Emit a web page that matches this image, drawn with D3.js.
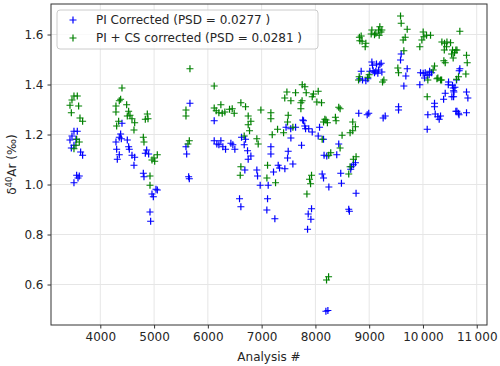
<!DOCTYPE html>
<html>
<head>
<meta charset="utf-8">
<script src="https://cdn.jsdelivr.net/npm/d3@7"></script>
<style>
  body { margin: 0; background: #fff; }
  svg text { font-family: "DejaVu Sans", sans-serif; fill: #262626; }
</style>
</head>
<body>
<svg id="chart"></svg>
<script>
// PI corrected vs PI + CS corrected d40Ar per analysis number

var width = 500,
    height = 366;

var xTicks = [4000, 5000, 6000, 7000, 8000, 9000, 10000, 11000];
var xTickLabels = ["4000", "5000", "6000", "7000", "8000", "9000", "10\u2009000", "11\u2009000"];
var yTicks = [0.6, 0.8, 1.0, 1.2, 1.4, 1.6];
var yTickLabels = ["0.6", "0.8", "1.0", "1.2", "1.4", "1.6"];

var seriesNames = ["PI Corrected (PSD = 0.0277 )", "PI + CS corrected (PSD = 0.0281 )"];
var seriesColors = ["#0000ff", "#008000"];

// [analysis #, d40Ar] for PI corrected
var piData = [
  [3510,1.213],[3572,1.213],[3473,1.194],[3436,1.178],[3547,1.181],[3461,1.146],[3510,1.157],
  [3634,1.130],[3671,1.117],[3560,1.037],[3609,1.034],[3585,1.026],[3510,1.007],
  [4378,1.202],[4353,1.189],[4391,1.183],[4291,1.170],[4502,1.178],[4527,1.151],[4539,1.141],
  [4304,1.141],[4353,1.119],[4316,1.101],[4589,1.117],[4639,1.109],[4626,1.077],[4403,1.245],
  [4862,1.138],[4837,1.125],[4899,1.122],[4800,1.045],[4812,1.031],[4961,0.962],[5035,0.981],
  [5060,0.978],[4986,0.951],[4924,0.890],[4936,0.853],
  [5667,1.325],[5593,1.151],[5606,1.122],[5643,1.031],[5655,1.023],
  [6118,1.255],[6118,1.175],[6167,1.162],[6205,1.159],[6242,1.175],[6279,1.151],[6329,1.141],
  [6428,1.165],[6465,1.159],[6502,1.141],[6626,1.189],[6701,1.181],[6676,1.159],[6738,1.135],
  [6800,1.114],[6750,1.101],[6688,1.058],[6911,1.058],[6924,1.034],[6973,0.997],[7122,0.997],
  [7172,1.151],[7172,1.122],[7308,1.077],[7221,1.050],[7333,1.066],[7432,1.063],[7581,1.082],
  [7494,1.133],[7482,1.106],[7544,1.186],[7631,1.229],[7779,1.255],[7817,1.223],[7941,1.210],
  [8077,1.229],[8052,1.194],[7742,1.157],[8151,1.181],[8126,1.042],[8151,1.026],[8250,0.990],
  [6589,0.943],[6614,0.911],[7110,0.943],[7097,0.898],[7246,0.863],[7928,0.903],[7866,0.882],
  [7916,0.861],[7854,0.821],
  [7764,1.258],[7802,1.234],[7876,1.223],[7454,1.229],[7541,1.223],[8161,1.117],[8211,1.114],
  [8397,1.119],[8434,1.162],[8471,1.045],[8484,1.005],[8756,0.965],[8620,0.901],[8632,0.893],
  [8806,1.285],[8992,1.285],[8963,1.279],[8670,1.071],[8706,1.079],[8744,1.087],[8657,1.061],
  [8195,0.493],[8232,0.496],
  [9050,1.490],[9062,1.477],[9136,1.482],[9198,1.479],[9223,1.485],[9174,1.458],[9124,1.453],
  [9074,1.455],[9012,1.453],[8851,1.453],[8826,1.423],[8876,1.418],[8938,1.415],[8975,1.423],
  [9099,1.447],[9161,1.445],[9236,1.450],[9260,1.266],[9298,1.274],
  [9595,1.522],[9583,1.498],[9707,1.463],[9682,1.434],[9645,1.394],[9546,1.311],[9546,1.298],
  [9955,1.447],[10004,1.445],[10042,1.447],[10079,1.437],[10029,1.426],[9942,1.399],[10116,1.439],
  [10124,1.453],[10161,1.447],
  [10091,1.279],[10228,1.282],[10277,1.271],[10302,1.261],[10327,1.274],[10079,1.221],
  [10215,1.325],[10215,1.311],[10414,1.365],[10384,1.341],[10562,1.386],[10575,1.370],
  [10538,1.351],[10550,1.397],[10476,1.410],[10624,1.418],[10471,1.399],[10595,1.389],
  [10570,1.375],[10570,1.351],[10686,1.463],[10674,1.455],[10612,1.293],[10661,1.285],
  [10632,1.293],[10670,1.279],[10810,1.287],[10810,1.370],[10835,1.346]
];

// [analysis #, d40Ar] for PI + CS corrected
var pcsData = [
  [3510,1.354],[3572,1.354],[3473,1.338],[3436,1.317],[3597,1.314],[3461,1.287],[3622,1.266],
  [3671,1.253],[3560,1.181],[3609,1.170],[3510,1.143],[3547,1.157],
  [4403,1.386],[4378,1.341],[4353,1.335],[4291,1.314],[4490,1.319],[4291,1.290],[4527,1.293],
  [4552,1.277],[4502,1.274],[4589,1.263],[4341,1.253],[4304,1.234],[4639,1.247],[4626,1.218],
  [4874,1.282],[4837,1.261],[4887,1.263],[4800,1.189],[4812,1.170],[4998,1.106],[5060,1.119],
  [4961,1.098],[5011,1.093],[4924,1.034],[4924,0.997],
  [5593,1.298],[5593,1.274],[5655,1.175],[5630,1.162],[5667,1.463],
  [6118,1.394],[6118,1.306],[6155,1.295],[6242,1.319],[6205,1.287],[6267,1.285],[6316,1.290],
  [6403,1.301],[6453,1.303],[6490,1.285],[6614,1.327],[6701,1.311],[6750,1.274],[6800,1.253],
  [6750,1.239],[6775,1.215],[6676,1.194],[6911,1.183],[6936,1.162],[6986,1.298],[7172,1.287],
  [7172,1.263],[6614,1.071],[6602,1.037],[7110,1.077],[7098,1.026],[7259,1.007],[7197,1.199],
  [7296,1.221],[7408,1.207],[7470,1.370],[7631,1.367],[7755,1.399],[7804,1.391],[7829,1.367],
  [7941,1.351],[8052,1.373],[7544,1.335],[7730,1.327],[7730,1.303],[8027,1.330],[8114,1.327],
  [7494,1.277],[7482,1.250],[7581,1.229],[8176,1.261],[8151,1.250],[8126,1.181],[7928,1.037],
  [7891,1.021],[7910,1.003],[7842,0.962],
  [7430,1.346],[7752,1.335],[7963,1.362],[8434,1.309],[8459,1.303],[8198,1.258],[8223,1.247],
  [8372,1.269],[8384,1.255],[8694,1.250],[8744,1.231],[8694,1.215],[8645,1.207],[8496,1.197],
  [8459,1.146],[8285,1.127],[8248,1.117],[8756,1.111],[8706,1.101],[8645,1.071],[8620,1.042],
  [8207,0.618],[8245,0.631],
  [9583,1.674],[9595,1.645],[9707,1.621],[9670,1.589],[9632,1.578],[9645,1.535],[9533,1.466],
  [9546,1.447],[8851,1.594],[8826,1.575],[8938,1.565],[8926,1.551],[8818,1.589],[8868,1.573],
  [9050,1.618],[9124,1.605],[9174,1.618],[9198,1.631],[9236,1.618],[9186,1.597],[9099,1.599],
  [9037,1.602],[9219,1.610],
  [8814,1.431],[8802,1.418],[9000,1.439],[8975,1.429],[9273,1.418],[9248,1.410],
  [10004,1.610],[10017,1.591],[9980,1.578],[10066,1.597],[10141,1.597],[9942,1.551],
  [10352,1.570],[10401,1.565],[10438,1.551],[10513,1.567],[10446,1.570],[10550,1.538],
  [10612,1.538],[10587,1.527],[10632,1.538],[10533,1.522],[10397,1.538],[10686,1.613],
  [10810,1.517],[10823,1.487],[10389,1.495],[10414,1.487],[10562,1.506],[10215,1.474],
  [10190,1.458],[10277,1.426],[10327,1.418],[10347,1.418],[10260,1.423],[10091,1.418],
  [10079,1.351],[10661,1.431],[10624,1.421],[10798,1.442]
];

var plot = { left: 51, right: 487, top: 4, bottom: 325 };

var svg = d3.select('#chart')
  .attr('width', width)
  .attr('height', height);

var x = d3.scaleLinear()
  .domain([3083, 11191])
  .range([plot.left, plot.right]);

var y = d3.scaleLinear()
  .domain([0.438, 1.722])
  .range([plot.bottom, plot.top]);

// grid
svg.append('g')
  .selectAll('line')
  .data(xTicks)
  .enter().append('line')
    .attr('x1', d => x(d)).attr('x2', d => x(d))
    .attr('y1', plot.top).attr('y2', plot.bottom)
    .attr('stroke', '#e6e6e6').attr('stroke-width', 1);
svg.append('g')
  .selectAll('line')
  .data(yTicks)
  .enter().append('line')
    .attr('y1', d => y(d)).attr('y2', d => y(d))
    .attr('x1', plot.left).attr('x2', plot.right)
    .attr('stroke', '#e6e6e6').attr('stroke-width', 1);

// axes
var xAxis = svg.append('g')
  .attr('transform', 'translate(0,' + plot.bottom + ')')
  .call(d3.axisBottom(x).tickValues(xTicks).tickFormat((d, i) => xTickLabels[i]).tickSize(3.5).tickPadding(4));
var yAxis = svg.append('g')
  .attr('transform', 'translate(' + plot.left + ',0)')
  .call(d3.axisLeft(y).tickValues(yTicks).tickFormat((d, i) => yTickLabels[i]).tickSize(3.5).tickPadding(4));
[xAxis, yAxis].forEach(function(g) {
  g.select('.domain').remove();
  g.selectAll('line').attr('stroke', '#333');
  g.selectAll('text').style('font-size', '12px').attr('fill', '#262626');
});

// markers
var cross = 'M-3.5,0H3.5M0,-3.5V3.5';
[piData, pcsData].forEach(function(data, k) {
  svg.append('g')
    .selectAll('path')
    .data(data)
    .enter().append('path')
      .attr('d', cross)
      .attr('transform', d => 'translate(' + x(d[0]) + ',' + y(d[1]) + ')')
      .attr('stroke', seriesColors[k])
      .attr('stroke-width', 1.2)
      .attr('fill', 'none');
});

// frame
svg.append('rect')
  .attr('x', plot.left).attr('y', plot.top)
  .attr('width', plot.right - plot.left).attr('height', plot.bottom - plot.top)
  .attr('fill', 'none').attr('stroke', '#333').attr('stroke-width', 1);

// legend
var legend = svg.append('g');
legend.append('rect')
  .attr('x', 57).attr('y', 10).attr('width', 261).attr('height', 39).attr('rx', 3)
  .attr('fill', '#fff').attr('fill-opacity', 0.8)
  .attr('stroke', '#cccccc').attr('stroke-width', 1);
seriesNames.forEach(function(name, i) {
  legend.append('path')
    .attr('d', cross)
    .attr('transform', 'translate(73,' + (20 + i * 18) + ')')
    .attr('stroke', seriesColors[i]).attr('stroke-width', 1.2);
  legend.append('text')
    .attr('x', 96).attr('y', 24 + i * 18)
    .style('font-size', '12px')
    .text(name);
});

// axis labels
svg.append('text')
  .attr('x', (plot.left + plot.right) / 2).attr('y', 361)
  .attr('text-anchor', 'middle')
  .style('font-size', '12px')
  .text('Analysis #');

var yl = svg.append('text')
  .attr('transform', 'translate(16,' + (plot.top + plot.bottom) / 2 + ') rotate(-90)')
  .attr('text-anchor', 'middle')
  .style('font-size', '12px');
yl.append('tspan').text('\u03b4');
yl.append('tspan').attr('dy', -4.5).style('font-size', '8.5px').text('40');
yl.append('tspan').attr('dy', 4.5).text('Ar (\u2030)');
</script>
</body>
</html>
